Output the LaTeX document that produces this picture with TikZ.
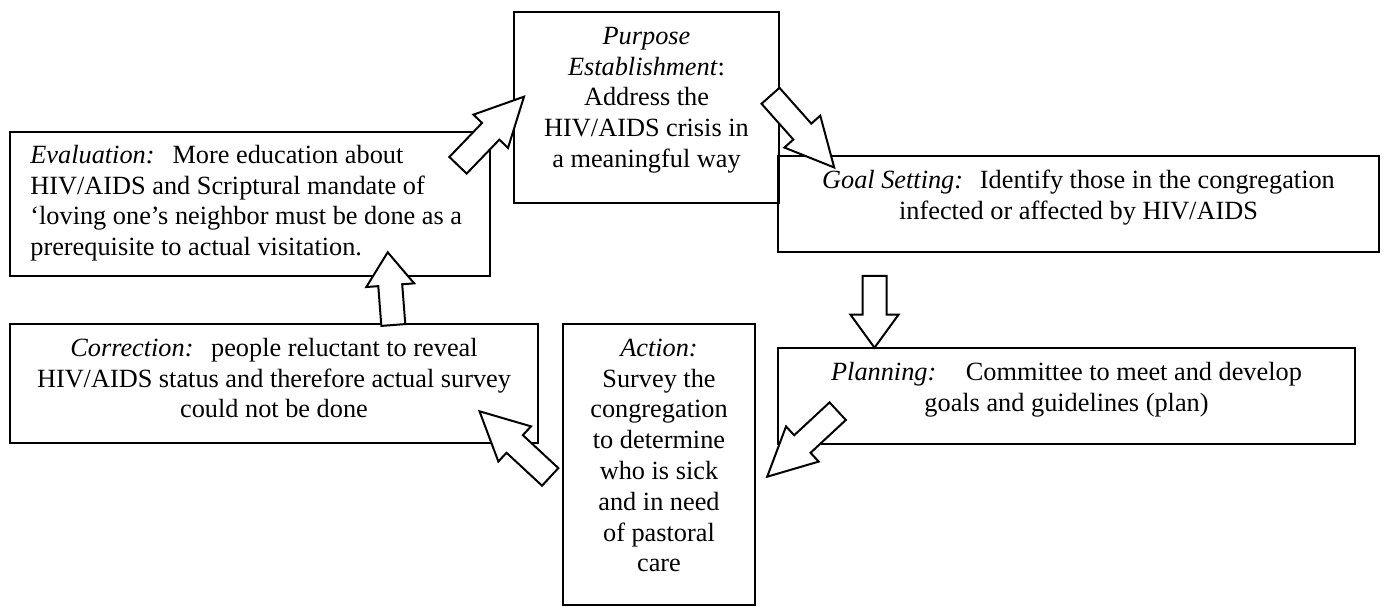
\documentclass[tikz,border=0pt]{standalone}
\usepackage{fontspec}
\setmainfont{Liberation Serif}
\usetikzlibrary{positioning, fit, calc}

% hollow block arrow from #2 (tail) to #3 (tip), #1 = head length
\newcommand{\fatarrow}[3][24pt]{%
  \draw[fat] ($(#2)!6pt!90:(#3)$) -- ($(#3)!#1!(#2)!6pt!-90:(#2)$)
    -- ($(#3)!#1!(#2)!12pt!-90:(#2)$) -- (#3)
    -- ($(#3)!#1!(#2)!12pt!90:(#2)$) -- ($(#3)!#1!(#2)!6pt!90:(#2)$)
    -- ($(#2)!6pt!-90:(#3)$) -- cycle;}

\begin{document}
\begin{tikzpicture}[x=0.5pt, y=-0.5pt,
    box/.style={draw, line width=1pt, inner sep=0pt},
    txt/.style={inner sep=0pt, font=\fontsize{13.15pt}{15.4pt}\selectfont},
    fat/.style={draw, fill=white, line width=1pt, line join=miter}
]
    \useasboundingbox (0,0) rectangle (1386,608);

    % boxes
    \node[box, fit={(10,132) (490,276)}] (eval) {};
    \node[box, fit={(514,12) (779,203)}] (purpose) {};
    \node[box, fit={(778,156) (1379,252)}] (goal) {};
    \node[box, fit={(778,348) (1355,444)}] (planning) {};
    \node[box, fit={(563,324) (755,605)}] (action) {};
    \node[box, fit={(10,324) (538,443)}] (correction) {};

    % texts
    \node[txt, align=left, below right=5.2pt and 10.5pt of eval.north west] (evaltext)
        {\strut\textit{Evaluation:}\hspace{9pt}More education about\\
         HIV/AIDS and Scriptural mandate of\\
         ‘loving one’s neighbor must be done as a\\
         prerequisite to actual visitation.};
    \node[txt, align=center, below=5.7pt of purpose.north] (purposetext)
        {\strut\textit{Purpose}\\ \textit{Establishment}:\\ Address the\\
         HIV/AIDS crisis in\\ a meaningful way};
    \node[txt, align=center, below=5.7pt of goal.north] (goaltext)
        {\strut\textit{Goal Setting:}\hspace{8.4pt}Identify those in the congregation\\
         infected or affected by HIV/AIDS};
    \node[txt, align=center, below=5.7pt of planning.north] (planningtext)
        {\strut\textit{Planning:}\hspace{14.8pt}Committee to meet and develop\\
         goals and guidelines (plan)};
    \node[txt, align=center, below=5.7pt of action.north] (actiontext)
        {\strut\textit{Action:}\\ Survey the\\ congregation\\ to determine\\
         who is sick\\ and in need\\ of pastoral\\ care};
    \node[txt, align=center, below=5.7pt of correction.north] (correctiontext)
        {\strut\textit{Correction:}\hspace{8.8pt}people reluctant to reveal\\
         HIV/AIDS status and therefore actual survey\\ could not be done};

    % arrow ends
    \coordinate (evalout) at (458,165.3);
    \coordinate (purposein) at (524,96.7);
    \coordinate (purposeout) at (770.5,95.8);
    \coordinate (goalin) at (834.2,167.5);
    \coordinate (goalout) at (874.5,276);
    \coordinate (planningin) at (874.5,347.7);
    \coordinate (planningout) at (837.7,411.2);
    \coordinate (actionin) at (767.2,476.7);
    \coordinate (actionout) at (550.2,476.9);
    \coordinate (correctionin) at (479.5,411.3);
    \coordinate (correctionout) at (393.3,325);
    \coordinate (evalin) at (387.7,252.3);

    % arrows
    \fatarrow{evalout}{purposein}
    \fatarrow{purposeout}{goalin}
    \fatarrow[16.5pt]{goalout}{planningin}
    \fatarrow{planningout}{actionin}
    \fatarrow{actionout}{correctionin}
    \fatarrow[16.5pt]{correctionout}{evalin}
\end{tikzpicture}
\end{document}
